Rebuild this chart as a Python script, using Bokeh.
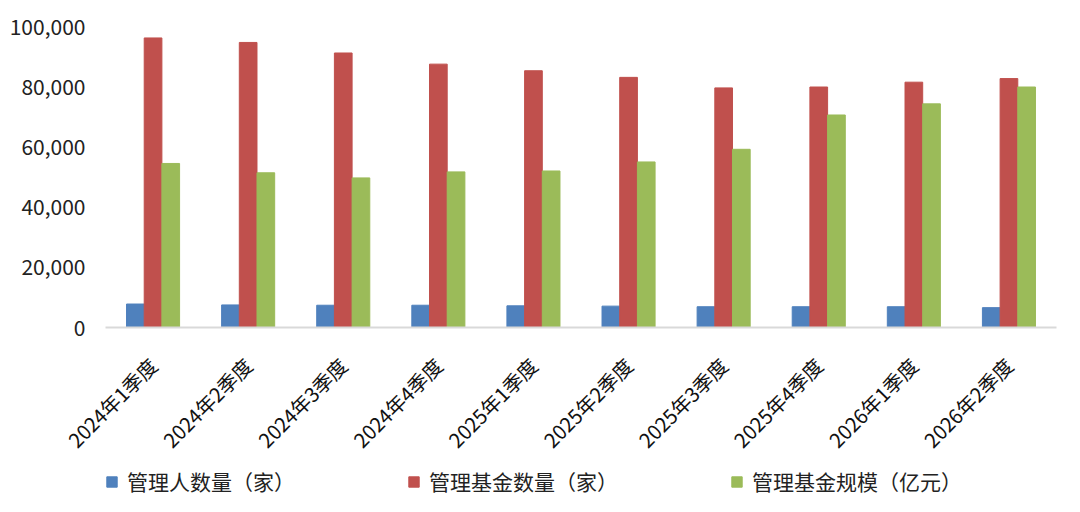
import math
from bokeh.plotting import figure
from bokeh.layouts import column
from bokeh.models import (FactorRange, Range1d, Legend, LegendItem, NumeralTickFormatter, FixedTicker,
                          ColumnDataSource)
from bokeh.transform import dodge
from bokeh.embed import file_html
from bokeh.resources import INLINE

quarters = ["2024年1季度", "2024年2季度", "2024年3季度", "2024年4季度", "2025年1季度",
            "2025年2季度", "2025年3季度", "2025年4季度", "2026年1季度", "2026年2季度"]
managers = [7800, 7500, 7400, 7400, 7200, 7100, 6900, 6900, 6900, 6600]
funds = [96200, 94700, 91200, 87500, 85300, 83100, 79600, 79900, 81500, 82700]
scale = [54500, 51400, 49700, 51700, 52000, 55000, 59200, 70600, 74300, 79900]
series_names = ["管理人数量（家）", "管理基金数量（家）", "管理基金规模（亿元）"]
y_ticks = [0, 20000, 40000, 60000, 80000, 100000]

colors = ["#4f81bd", "#c0504d", "#9bbb59"]
FONT = "Noto Sans CJK SC"

src = ColumnDataSource(dict(q=quarters, m=managers, f=funds, s=scale))

p = figure(width=1064, height=466, x_range=FactorRange(factors=quarters, range_padding=0),
           y_range=Range1d(0, 100000), output_backend="svg", toolbar_location=None,
           min_border_left=105, min_border_right=8, min_border_top=26, min_border_bottom=132)

bw = 0.186
r1 = p.vbar(x=dodge("q", -bw, range=p.x_range), top="m", width=bw, source=src, color=colors[0])
r2 = p.vbar(x=dodge("q", 0.0, range=p.x_range), top="f", width=bw, source=src, color=colors[1])
r3 = p.vbar(x=dodge("q", bw, range=p.x_range), top="s", width=bw, source=src, color=colors[2])

p.outline_line_color = None
p.xgrid.grid_line_color = None
p.ygrid.grid_line_color = None

p.yaxis.ticker = FixedTicker(ticks=y_ticks)
p.yaxis.formatter = NumeralTickFormatter(format="0,0")
p.yaxis.axis_line_color = None
p.yaxis.major_tick_line_color = None
p.yaxis.minor_tick_line_color = None
p.yaxis.major_label_text_font = FONT
p.yaxis.major_label_text_font_size = "21px"
p.yaxis.major_label_text_color = "#222222"
p.yaxis.major_label_standoff = 14

p.xaxis.axis_line_color = "#d9d9d9"
p.xaxis.axis_line_width = 2
p.xaxis.major_tick_line_color = None
p.xaxis.minor_tick_line_color = None
p.xaxis.major_label_orientation = math.pi / 4
p.xaxis.major_label_text_font = FONT
p.xaxis.major_label_text_font_size = "20px"
p.xaxis.major_label_text_color = "#111111"
p.xaxis.major_label_standoff = 28

# legend strip below the chart (frame aligned with the chart's frame by the column layout)
lg = figure(width=1064, height=30, x_range=Range1d(0, 1), y_range=Range1d(0, 1),
            output_backend="svg", toolbar_location=None,
            min_border_left=0, min_border_right=0, min_border_top=0, min_border_bottom=0)
lg.axis.visible = False
lg.grid.visible = False
lg.outline_line_color = None
# off-screen zero-size swatch renderers that only supply the legend glyph styles
swatch = ColumnDataSource(dict(x=[-5], top=[0]))
lr = [lg.vbar(x="x", top="top", width=0, source=swatch, color=c) for c in colors]

legend = Legend(items=[LegendItem(label=n, renderers=[r]) for n, r in zip(series_names, lr)],
                orientation="horizontal", location=(0, 0),
                label_text_font=FONT, label_text_font_size="21px", label_text_color="#222222",
                glyph_width=13, glyph_height=13, label_standoff=9, spacing=112,
                padding=2, margin=0, border_line_color=None, background_fill_alpha=0)
lg.add_layout(legend, "center")

layout = column(p, lg, spacing=0)
open("out.html", "w").write(file_html(layout, INLINE))
